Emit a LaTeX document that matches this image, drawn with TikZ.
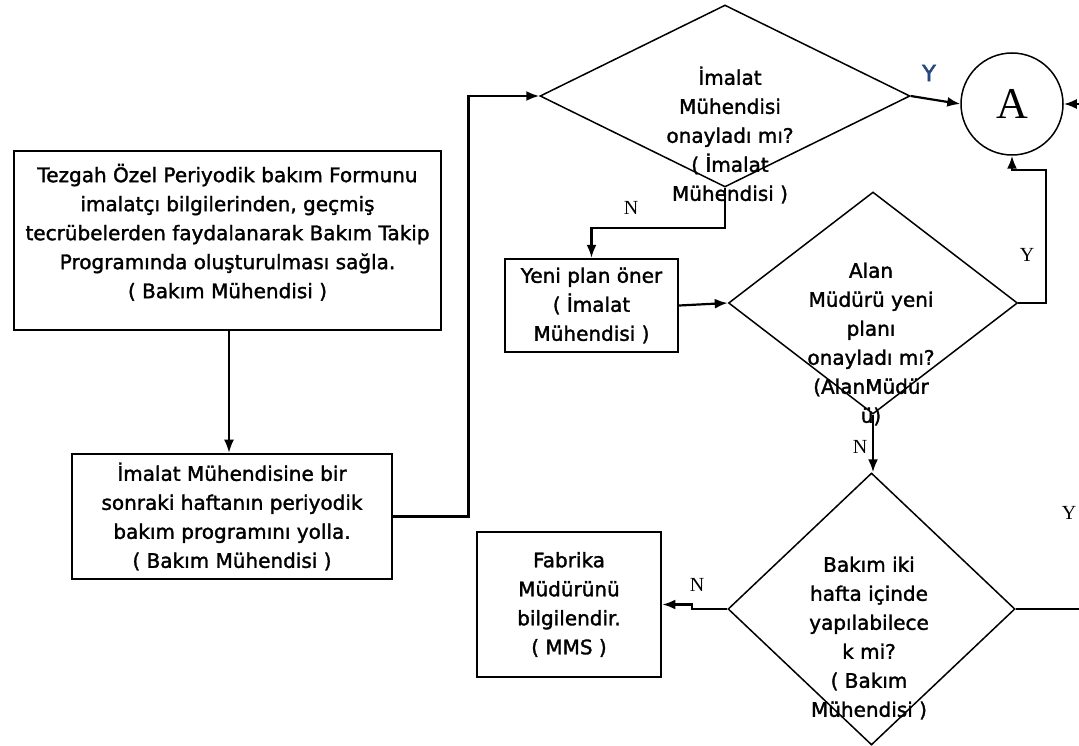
\documentclass[tikz,border=0pt]{standalone}
\usepackage{fontspec}
\setmainfont{DejaVu Sans}[FakeBold=1.6]
\newfontfamily\labelfont{Liberation Serif}
\newfontfamily\yesfont{DejaVu Sans}[FakeBold=2.5]
\usetikzlibrary{shapes.geometric,arrows.meta}
\definecolor{yesblue}{RGB}{38,72,128}

\begin{document}
\begin{tikzpicture}[x=1pt,y=-1pt,
  every node/.style={font=\fontsize{20}{29}\selectfont},
  procbox/.style={draw, rectangle, line width=2.8pt, align=center, inner sep=0pt},
  decision/.style={draw, diamond, line width=1.5pt, inner sep=0pt},
  dtext/.style={align=center, inner sep=0pt},
  link/.style={line width=2.2pt, -{Latex[length=13pt,width=10pt]}},
  thinlink/.style={line width=1.6pt, -{Latex[length=13pt,width=10pt]}},
  plainline/.style={line width=2.2pt},
  yn/.style={font=\labelfont\fontsize{20}{20}\selectfont, inner sep=0pt},
]
\useasboundingbox (0,0) rectangle (1079,746);

% process boxes
\node[procbox, minimum width=427pt, minimum height=179pt] (form) at (227.5,240.5)
  {Tezgah Özel Periyodik bakım Formunu\\imalatçı bilgilerinden, geçmiş\\tecrübelerden faydalanarak Bakım Takip\\Programında oluşturulması sağla.\\( Bakım Mühendisi )\\[-10pt]};
\node[procbox, minimum width=320pt, minimum height=125pt] (send) at (232,516.5)
  {İmalat Mühendisine bir\\sonraki haftanın periyodik\\bakım programını yolla.\\( Bakım Mühendisi )};
\node[procbox, line width=2.4pt, minimum width=173pt, minimum height=93pt] (plan) at (591.5,305.5)
  {Yeni plan öner\\( İmalat\\Mühendisi )};
\node[procbox, minimum width=184pt, minimum height=145pt] (fab) at (569,604.5)
  {Fabrika\\Müdürünü\\bilgilendir.\\( MMS )};

% decisions (outline and text drawn separately, the text runs past the outline)
\node[decision, minimum width=370pt, minimum height=182pt] (d1) at (725,96) {};
\node[dtext] (t1) at (730,135) {İmalat\\Mühendisi\\onayladı mı?\\( İmalat\\Mühendisi )};
\node[decision, minimum width=289pt, minimum height=222pt] (d2) at (873,303) {};
\node[dtext] (t2) at (871,344) {Alan\\Müdürü yeni\\planı\\onayladı mı?\\(AlanMüdür\\ü)};
\node[decision, minimum width=287pt, minimum height=272pt] (d3) at (871.5,609) {};
\node[dtext] (t3) at (869,638) {Bakım iki\\hafta içinde\\yapılabilece\\k mi?\\( Bakım\\Mühendisi )};

% connector circle
\node[draw, circle, line width=1.5pt, minimum size=102pt, inner sep=0pt,
      font=\labelfont\fontsize{44}{44}\selectfont] (A) at (1012,104) {A};

% free ends at the right edge
\coordinate (rin) at (1079,104);
\coordinate (rout) at (1079,609);
\coordinate (bend) at (1046,170);

% connectors
\draw[thinlink] (form.south -| 229,0) -- (send.north -| 229,0);
\draw[link] (send.east) -- ++(75,0) |- (d1.west);
\draw[link] (d1.east) -- (A.west);
\draw[link] (rin) -- (A.east);
\draw[link] (d1.south) -- ++(0,40) -| (plan.north);
\draw[link] (plan.east) -- (d2.west);
\draw[link] (d2.east) -| (bend) -| (A.south);
\draw[link] (d2.south) -- (d2.south |- d3.north);
\draw[link] (d3.west) -- ++(-35,0) |- (fab.east);
\draw[plainline] (d3.east) -- (rout);

% branch labels
\node[font=\yesfont\fontsize{22}{22}\selectfont, text=yesblue, inner sep=0pt] (y1) at (929,73) {Y};
\node[yn] (n1) at (631,208) {N};
\node[yn] (y2) at (1027,255) {Y};
\node[yn] (n2) at (860,447) {N};
\node[yn] (n3) at (697,585) {N};
\node[yn] (y3) at (1069,513) {Y};
\end{tikzpicture}
\end{document}
